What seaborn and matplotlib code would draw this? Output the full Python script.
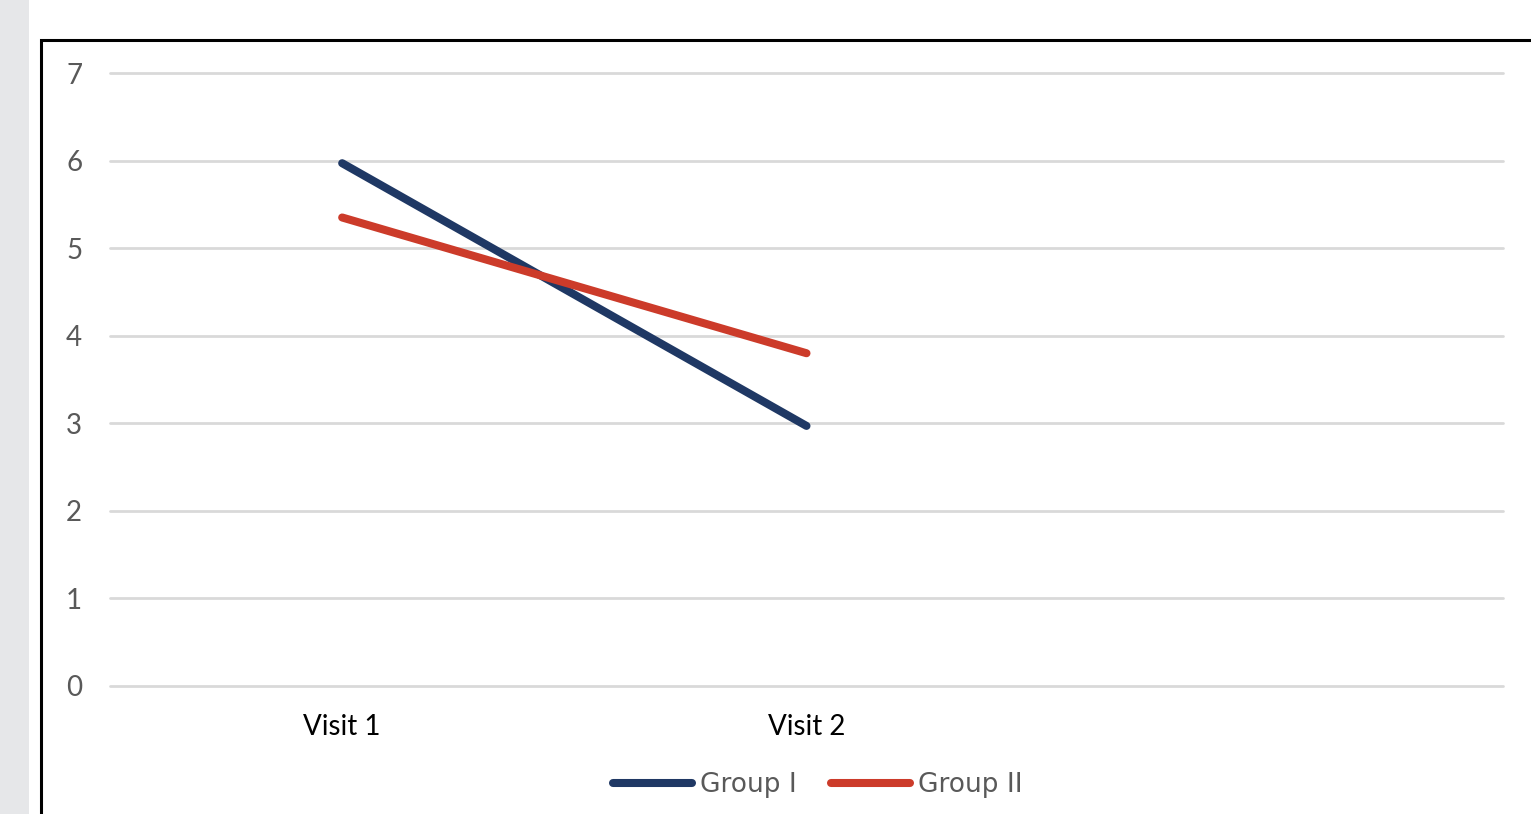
import pandas as pd
import matplotlib.pyplot as plt
import seaborn as sns
from matplotlib.patches import Rectangle

# data
visits = ["Visit 1", "Visit 2", ""]
group_1 = [5.97, 2.97]
group_2 = [5.35, 3.8]
y_ticks = [0, 1, 2, 3, 4, 5, 6, 7]

df = pd.DataFrame({
    "pos": list(range(len(group_1))) * 2,
    "value": group_1 + group_2,
    "group": ["Group I"] * len(group_1) + ["Group II"] * len(group_2),
})

sns.set_theme(style="white")
plt.rcParams["font.family"] = ["Lato", "DejaVu Sans"]

W, H = 1531, 814
fig = plt.figure(figsize=(W / 100, H / 100), dpi=100)
fig.patch.set_facecolor("white")

# gray strip on the left and black frame
fig.add_artist(Rectangle((0, 0), 29 / W, 1, transform=fig.transFigure,
                         facecolor="#e6e7e9", edgecolor="none", zorder=0))
fig.add_artist(Rectangle((41 / W, -0.05), 1.1, (H - 40) / H + 0.05, transform=fig.transFigure,
                         facecolor="none", edgecolor="black", lw=2.2, zorder=1))

ax = fig.add_axes([110 / W, (H - 686) / H, (1503 - 110) / W, (686 - 73) / H])
ax.set_facecolor("none")

palette = {"Group I": "#1f3864", "Group II": "#cc3b2a"}
sns.lineplot(data=df, x="pos", y="value", hue="group", palette=palette,
             linewidth=5.8, ax=ax, legend=False, solid_capstyle="round")

ax.set_xlim(-0.5, len(visits) - 0.5)
ax.set_ylim(0, 7)
ax.set_yticks(y_ticks)
ax.set_xticks(range(len(visits)))
ax.set_xticklabels(visits, fontsize=20, color="black")
ax.set_yticklabels([str(t) for t in y_ticks], fontsize=20, color="#595959")
ax.tick_params(axis="y", length=0, pad=20)
ax.tick_params(axis="x", length=0, pad=20)
ax.yaxis.grid(True, color="#d9d9d9", lw=2)
for gl in ax.get_ygridlines():
    gl.set_clip_on(False)
ax.set_axisbelow(True)
for s in ax.spines.values():
    s.set_visible(False)
ax.set_xlabel("")
ax.set_ylabel("")

handles = [plt.Line2D([], [], color=palette[g], lw=5.8, solid_capstyle="round") for g in palette]
leg = fig.legend(handles, list(palette), loc="center", bbox_to_anchor=(818 / W, (H - 785) / H),
                 ncol=2, frameon=False, handlelength=3.0, handletextpad=0.3, columnspacing=1.3,
                 prop={"family": "DejaVu Sans", "size": 19})
for t in leg.get_texts():
    t.set_color("#595959")

fig.savefig("out.png", dpi=100)
